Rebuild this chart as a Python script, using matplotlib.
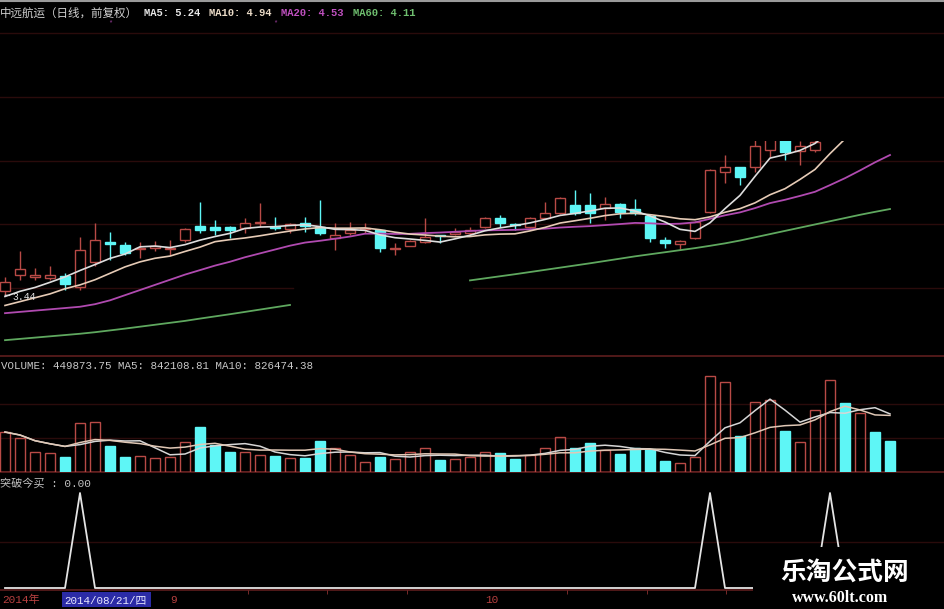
import matplotlib
matplotlib.use('Agg')
import matplotlib.pyplot as plt
import numpy as np
import pandas as pd
from matplotlib.patches import Rectangle

plt.rcParams['font.family'] = ['Liberation Mono', 'Noto Sans CJK SC']

# ---------------- data ----------------
opens = [3.47, 3.60, 3.58, 3.57, 3.59, 3.50, 3.70, 3.85, 3.83, 3.80,
         3.81, 3.80, 3.87, 3.98, 3.97, 3.97, 3.96, 4.00, 3.97, 3.955,
         4.00, 3.97, 3.885, 3.923, 3.955, 3.947, 3.80, 3.822, 3.853, 3.905,
         3.916, 3.923, 3.97, 4.04, 3.99, 3.97, 4.04, 4.079, 4.141, 4.141,
         4.118, 4.149, 4.11, 4.056, 3.869, 3.838, 3.885, 4.087, 4.398, 4.437,
         4.437, 4.569, 4.70, 4.56, 4.57, 4.68, 5.25, 5.10, 5.50, 5.30]
highs = [3.58, 3.78, 3.65, 3.67, 3.61, 3.89, 4.00, 3.93, 3.85, 3.85,
         3.86, 3.87, 3.96, 4.165, 4.025, 3.98, 4.04, 4.157, 4.048, 4.00,
         4.048, 4.18, 4.00, 4.01, 4.00, 3.95, 3.846, 3.87, 4.04, 3.91,
         3.962, 3.97, 4.045, 4.064, 4.00, 4.045, 4.165, 4.20, 4.258, 4.235,
         4.204, 4.155, 4.188, 4.06, 3.892, 3.87, 4.015, 4.42, 4.53, 4.44,
         4.65, 4.76, 4.76, 4.64, 4.68, 5.09, 5.30, 5.45, 5.58, 5.36]
lows = [3.44, 3.56, 3.56, 3.56, 3.48, 3.48, 3.67, 3.71, 3.75, 3.73,
        3.78, 3.75, 3.85, 3.92, 3.91, 3.885, 3.92, 3.97, 3.947, 3.92,
        3.93, 3.908, 3.79, 3.908, 3.923, 3.776, 3.752, 3.82, 3.846, 3.846,
        3.91, 3.90, 3.965, 3.97, 3.947, 3.965, 4.035, 4.075, 4.064, 4.00,
        4.025, 4.04, 4.064, 3.853, 3.807, 3.791, 3.88, 4.08, 4.312, 4.297,
        4.398, 4.514, 4.49, 4.452, 4.55, 4.66, 5.05, 5.08, 5.30, 5.15]
closes = [3.54, 3.64, 3.60, 3.60, 3.53, 3.79, 3.87, 3.84, 3.77, 3.81,
          3.82, 3.81, 3.955, 3.947, 3.95, 3.945, 4.00, 4.01, 3.96, 3.993,
          3.978, 3.923, 3.908, 3.947, 3.962, 3.807, 3.81, 3.861, 3.892, 3.897,
          3.931, 3.947, 4.04, 4.00, 3.985, 4.04, 4.079, 4.196, 4.079, 4.079,
          4.149, 4.087, 4.079, 3.885, 3.846, 3.861, 4.01, 4.413, 4.437, 4.359,
          4.60, 4.72, 4.55, 4.60, 4.63, 5.09, 5.15, 5.40, 5.35, 5.21]

ma5 = [3.43, 3.47, 3.50, 3.54, 3.582, 3.632, 3.678, 3.726, 3.760, 3.816,
       3.822, 3.810, 3.833, 3.868, 3.896, 3.921, 3.959, 3.970, 3.973, 3.982,
       3.988, 3.973, 3.952, 3.950, 3.944, 3.909, 3.887, 3.877, 3.866, 3.853,
       3.878, 3.906, 3.941, 3.963, 3.981, 4.002, 4.029, 4.060, 4.076, 4.095,
       4.116, 4.118, 4.095, 4.056, 4.009, 3.952, 3.936, 4.003, 4.113, 4.216,
       4.364, 4.506, 4.533, 4.566, 4.620, 4.718, 4.804, 4.974, 5.124, 5.240]
ma10 = [3.36, 3.39, 3.42, 3.45, 3.49, 3.52, 3.56, 3.61, 3.66, 3.699,
        3.727, 3.744, 3.780, 3.814, 3.856, 3.872, 3.885, 3.902, 3.921, 3.939,
        3.955, 3.966, 3.961, 3.961, 3.963, 3.949, 3.930, 3.915, 3.908, 3.899,
        3.894, 3.896, 3.909, 3.915, 3.917, 3.940, 3.967, 4.001, 4.019, 4.038,
        4.059, 4.073, 4.077, 4.066, 4.052, 4.034, 4.027, 4.049, 4.085, 4.113,
        4.158, 4.221, 4.268, 4.340, 4.418, 4.541, 4.655, 4.754, 4.845, 4.930]
ma20 = [3.30, 3.31, 3.32, 3.33, 3.34, 3.35, 3.37, 3.40, 3.44, 3.48,
        3.52, 3.56, 3.60, 3.635, 3.67, 3.70, 3.735, 3.765, 3.795, 3.825,
        3.849, 3.863, 3.879, 3.896, 3.918, 3.919, 3.916, 3.917, 3.923, 3.927,
        3.933, 3.939, 3.944, 3.946, 3.948, 3.953, 3.957, 3.966, 3.972, 3.977,
        3.985, 3.993, 4.002, 3.999, 3.993, 3.996, 4.006, 4.034, 4.061, 4.084,
        4.117, 4.156, 4.182, 4.212, 4.244, 4.296, 4.35, 4.41, 4.473, 4.53]
nan = float('nan')
ma60 = [3.09, 3.10, 3.11, 3.12, 3.13, 3.14, 3.152, 3.166, 3.18, 3.195,
        3.21, 3.225, 3.24, 3.258, 3.275, 3.292, 3.31, 3.328, 3.346, 3.364,
        nan, nan, nan, nan, nan, nan, nan, nan, nan, nan,
        nan, 3.555, 3.571, 3.587, 3.603, 3.62, 3.637, 3.654, 3.671, 3.688,
        3.706, 3.724, 3.742, 3.758, 3.774, 3.79, 3.806, 3.824, 3.843, 3.865,
        3.89, 3.915, 3.94, 3.965, 3.99, 4.015, 4.04, 4.065, 4.088, 4.11]

volume = [580000, 493000, 290000, 276000, 218000, 711000, 726000, 377000, 218000, 232000,
          203000, 218000, 435000, 653000, 392000, 290000, 290000, 247000, 232000, 203000,
          203000, 450000, 348000, 247000, 145000, 218000, 189000, 290000, 348000, 174000,
          189000, 218000, 290000, 276000, 189000, 247000, 348000, 508000, 348000, 421000,
          319000, 261000, 348000, 334000, 160000, 131000, 218000, 1393000, 1306000, 522000,
          1016000, 1050000, 595000, 435000, 900000, 1335000, 1000000, 850000, 580000, 449873.75]

signal = [0, 0, 0, 0, 0, 1, 0, 0, 0, 0,
          0, 0, 0, 0, 0, 0, 0, 0, 0, 0,
          0, 0, 0, 0, 0, 0, 0, 0, 0, 0,
          0, 0, 0, 0, 0, 0, 0, 0, 0, 0,
          0, 0, 0, 0, 0, 0, 0, 1, 0, 0,
          0, 0, 0, 0, 0, 1, 0, 0, 0, 0]

month_labels = ['9', '10']
month_pos = [12, 33]
axis_ticks = [16.2, 21.5, 26.8, 37.5, 42.8, 48.1]

header_title = '中远航运（日线，前复权）'
ma_labels = ['MA5: 5.24', 'MA10: 4.94', 'MA20: 4.53', 'MA60: 4.11']
vol_header = 'VOLUME: 449873.75 MA5: 842108.81 MA10: 826474.38'
ind_header = '突破今买 : 0.00'
year_label = '2014年'
cursor_label = '2014/08/21/四'

# ---------------- styling ----------------
RED = '#b84a46'
CYAN = '#5ef6f6'
C_MA5 = '#dedede'
C_MA10 = '#e6cbb6'
C_MA20 = '#b04ab0'
C_MA60 = '#5fa85f'
GRID = '#2a0b0b'
SEP = '#5e1e1e'

W, H = 945, 609
fig = plt.figure(figsize=(W / 100, H / 100), dpi=100, facecolor='black')

XL = (-1 / 3, 62 + 2 / 3)


def panel(top_px, bot_px, z=1):
    a = fig.add_axes([0, 1 - bot_px / H, 1, (bot_px - top_px) / H], zorder=z)
    a.set_facecolor('none')
    a.set_xlim(*XL)
    for s in a.spines.values():
        s.set_visible(False)
    a.set_xticks([])
    a.set_yticks([])
    return a


# background axes in pixel coordinates
bg = fig.add_axes([0, 0, 1, 1], zorder=0)
bg.set_facecolor('black')
bg.set_xlim(0, W)
bg.set_ylim(H, 0)
bg.axis('off')
bg.axhline(0.8, color='#9a9a9a', lw=1.5)
for yy in (33, 97):
    bg.axhline(yy, color=GRID, lw=1)
for yy in (356, 472, 590):
    bg.axhline(yy, color=SEP, lw=1.2)

bg.text(0, 13, header_title, color='#cfcfcf', fontsize=8.3,
        family=['Noto Sans CJK SC'], va='center', ha='left')
ma_x = [144, 209, 281, 353]
ma_cols = ['#e8e8e8', '#ecdcc8', '#c050c0', '#6fbf6f']
for lbl, xx, cc in zip(ma_labels, ma_x, ma_cols):
    bg.text(xx, 13, lbl, color=cc, fontsize=7.6, fontweight='bold',
            family=['Liberation Mono'], va='center', ha='left')
for xx in (110, 275):
    bg.text(xx, 23, '*', color='#a040a0', fontsize=5, ha='center', va='center')
bg.text(1, 366, vol_header, color='#c8c8c8', fontsize=7.8,
        family=['Liberation Mono'], va='center', ha='left')
bg.text(0, 483, ind_header, color='#c0c0c0', fontsize=8,
        family=['Liberation Mono', 'Noto Sans CJK SC'], va='center', ha='left')

# ---------------- price panel ----------------
ax = panel(141, 356, 2)
ax.set_ylim(2.967, 4.639)
for gy in (4.483, 3.993):
    ax.axhline(gy, color=GRID, lw=1, zorder=0)
ax.plot([-1 / 3, 19.2], [3.496, 3.496], color=GRID, lw=1, zorder=0)
ax.plot([31.2, 62.6], [3.496, 3.496], color=GRID, lw=1, zorder=0)

o = np.array(opens)
h = np.array(highs)
l = np.array(lows)
c = np.array(closes)
x = np.arange(len(o))
up = c >= o
dn = ~up
blo = np.minimum(o, c)
bhi = np.maximum(o, c)
bh = np.maximum(bhi - blo, 0.006)

ax.vlines(x[up], bhi[up], h[up], color=RED, lw=1, zorder=2)
ax.vlines(x[up], l[up], blo[up], color=RED, lw=1, zorder=2)
ax.vlines(x[dn], l[dn], h[dn], color=CYAN, lw=1, zorder=2)
ax.bar(x[up], bh[up], bottom=blo[up], width=0.62, facecolor='black',
       edgecolor=RED, lw=1, zorder=3)
ax.bar(x[dn], bh[dn], bottom=blo[dn], width=0.62, facecolor=CYAN,
       edgecolor=CYAN, lw=1, zorder=3)

ax.plot(x, ma60, color=C_MA60, lw=1.3, zorder=4)
ax.plot(x, ma20, color=C_MA20, lw=1.3, zorder=4)
ax.plot(x, ma10, color=C_MA10, lw=1.2, zorder=5)
ax.plot(x, ma5, color=C_MA5, lw=1.2, zorder=5)

imin = int(np.argmin(l))
ax.annotate(f'{l[imin]:.2f}', xy=(imin, l[imin]), xytext=(imin + 0.5, l[imin] - 0.012),
            color='#e0e0e0', fontsize=7, va='center', ha='left',
            family=['Liberation Mono'],
            arrowprops=dict(arrowstyle='-', color='#e0e0e0', lw=0.8,
                            shrinkA=0, shrinkB=0), zorder=6)

# ---------------- volume panel ----------------
av = panel(356, 472, 2)
v = np.array(volume)
av.set_ylim(0, 116 * 14512)
for gy in (987000, 493000):
    av.axhline(gy, color=GRID, lw=1, zorder=0)
av.bar(x[up], v[up], width=0.66, facecolor='none', edgecolor=RED, lw=1, zorder=2)
av.bar(x[dn], v[dn], width=0.66, facecolor=CYAN, edgecolor=CYAN, lw=1, zorder=2)
vs = pd.Series(v)
av.plot(x, vs.rolling(5, min_periods=1).mean(), color='#d6d6d6', lw=1.1, zorder=3)
av.plot(x, vs.rolling(10, min_periods=1).mean(), color='#e0c8b6', lw=1.1, zorder=3)

# ---------------- indicator panel ----------------
ai = panel(472, 590, 2)
ai.set_ylim(-2 / 95, 116 / 95)
ai.axhline(0.48, color=GRID, lw=1, zorder=0)
ai.plot(x, signal, color='#e4e4e4', lw=1.3, zorder=3)

# ---------------- date axis ----------------
ad = panel(590, 609, 2)
ad.set_ylim(0, 1)
ad.set_xticks(axis_ticks, minor=True)
ad.tick_params(axis='x', which='minor', direction='in', length=3,
               color='#8a3030', pad=0)
ad.xaxis.set_ticks_position('top')
for lbl, pos in zip(month_labels, month_pos):
    ad.text(pos - 1, 0.45, lbl, color='#b84040', fontsize=8,
            family=['Liberation Mono'], va='center', ha='left')
bg.text(2, 600, year_label, color='#b84040', fontsize=8,
        family=['Liberation Mono', 'Noto Sans CJK SC'], va='center', ha='left')
bg.add_patch(Rectangle((62, 592), 89, 15, facecolor='#2b2ba6', edgecolor='none', zorder=3))
bg.text(64, 600, cursor_label, color='#e8e8ff', fontsize=7.8,
        family=['Liberation Mono', 'Noto Sans CJK SC'], va='center', ha='left', zorder=4)

# ---------------- watermark overlay ----------------
ov = fig.add_axes([0, 0, 1, 1], zorder=20)
ov.set_facecolor('none')
ov.set_xlim(0, W)
ov.set_ylim(H, 0)
ov.axis('off')
ov.add_patch(Rectangle((753, 547), 192, 62, facecolor='black', edgecolor='none'))
ov.text(845, 572, '乐淘公式网', color='white', fontsize=18.5, fontweight='bold',
        family=['Noto Sans CJK SC'], ha='center', va='center')
ov.text(840, 598, 'www.60lt.com', color='white', fontsize=11.5, fontweight='bold',
        family=['Liberation Serif'], ha='center', va='center')

fig.savefig('out.png', dpi=100, facecolor='black')
